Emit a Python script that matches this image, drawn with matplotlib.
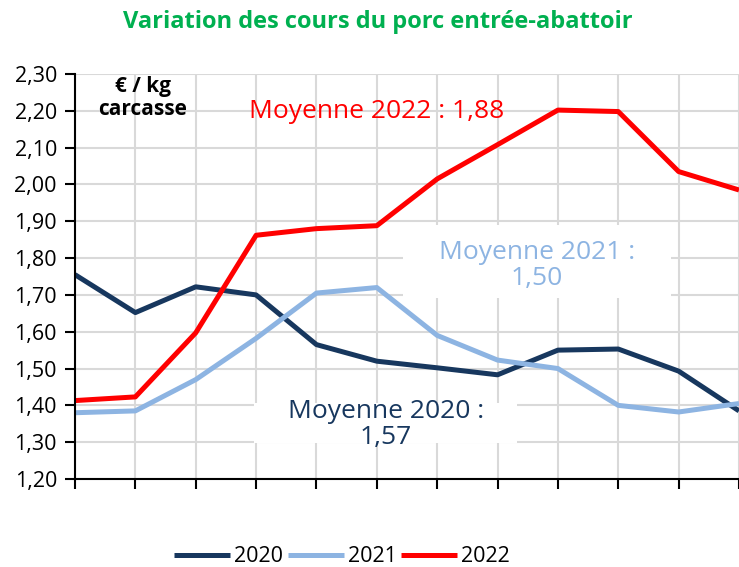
import matplotlib.pyplot as plt
from matplotlib.patches import Rectangle

mois = list(range(12))
cours_2020 = [1.755, 1.652, 1.722, 1.700, 1.565, 1.520, 1.502, 1.483, 1.550, 1.553, 1.493, 1.385]
cours_2021 = [1.380, 1.385, 1.470, 1.582, 1.705, 1.720, 1.590, 1.523, 1.500, 1.400, 1.382, 1.405]
cours_2022 = [1.413, 1.423, 1.597, 1.862, 1.880, 1.888, 2.015, 2.108, 2.202, 2.198, 2.035, 1.985]
yticks = [1.2, 1.3, 1.4, 1.5, 1.6, 1.7, 1.8, 1.9, 2.0, 2.1, 2.2, 2.3]

navy = '#17375e'
bleu = '#8db4e2'
rouge = '#ff0000'
vert = '#00b050'

plt.rcParams['font.family'] = ['Open Sans', 'DejaVu Sans']

fig = plt.figure(figsize=(7.39, 5.67), dpi=100)
ax = fig.add_axes([75/739, 88/567, 664/739, 405/567])

ax.plot(mois, cours_2020, color=navy, lw=3.6, label='2020', zorder=5, solid_capstyle='butt')
ax.plot(mois, cours_2021, color=bleu, lw=3.6, label='2021', zorder=5, solid_capstyle='butt')
ax.plot(mois, cours_2022, color=rouge, lw=3.6, label='2022', zorder=6, solid_capstyle='butt')

ax.set_xlim(0, 664/60.8)
ax.set_ylim(1.2, 2.3)
ax.set_yticks(yticks)
ax.set_yticklabels([f'{v:.2f}'.replace('.', ',') for v in yticks], fontsize=15.5)
ax.set_xticks(mois)
ax.set_xticklabels([])
ax.tick_params(axis='both', direction='out', length=7, width=1.5, color='black')
ax.tick_params(axis='y', pad=6)
ax.grid(True, color='#d9d9d9', lw=1.5, zorder=0)
ax.set_axisbelow(True)
for s in ['top', 'right']:
    ax.spines[s].set_visible(False)
for s in ['left', 'bottom']:
    ax.spines[s].set_linewidth(1.5)
    ax.spines[s].set_zorder(7)

# fonds blancs des moyennes
ax.add_patch(Rectangle((5.43, 1.692), 4.44, 0.198, facecolor='white', edgecolor='none', zorder=2))
ax.add_patch(Rectangle((2.96, 1.298), 4.36, 0.109, facecolor='white', edgecolor='none', zorder=2))

ax.text(5.0, 2.197, 'Moyenne 2022 : 1,88', color=rouge, fontsize=19, ha='center', va='center', zorder=3)
ax.text(7.65, 1.78, 'Moyenne 2021 :\n1,50', color=bleu, fontsize=19, ha='center', va='center',
        linespacing=1.05, zorder=3)
ax.text(5.15, 1.347, 'Moyenne 2020 :\n1,57', color=navy, fontsize=19, ha='center', va='center',
        linespacing=1.05, zorder=3)
ax.text(1.12, 2.235, '€ / kg\ncarcasse', color='black', fontsize=15, fontweight='bold',
        ha='center', va='center', linespacing=1.15, zorder=3)

fig.text(378/739, 1 - 22/567, 'Variation des cours du porc entrée-abattoir', color=vert,
         fontsize=17, fontweight='bold', ha='center', va='center')

fig.legend(loc='center', bbox_to_anchor=(342/739, 1 - 557/567), ncol=3, frameon=False,
           fontsize=15.5, handlelength=2.6, handletextpad=0.2, columnspacing=0.2)

fig.savefig('out.png', dpi=100)
